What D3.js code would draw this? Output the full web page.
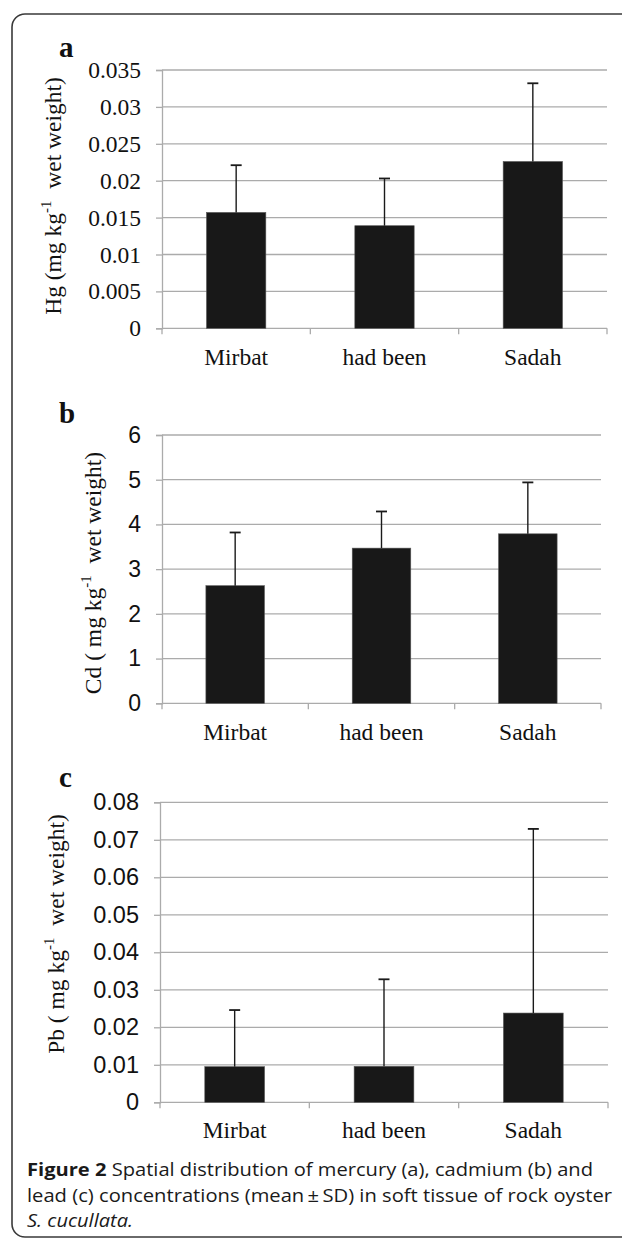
<!DOCTYPE html>
<html>
<head>
<meta charset="utf-8">
<script src="https://cdn.jsdelivr.net/npm/d3@7/dist/d3.min.js"></script>
<style>
  html, body { margin: 0; padding: 0; background: #fff; }
  svg { display: block; }
  text { white-space: pre; }
</style>
</head>
<body>
<svg id="chart" width="622" height="1240"></svg>
<script>
// ---- data ----
const categories = ["Mirbat", "had been", "Sadah"];

const hgMean = [0.0157, 0.0139, 0.0226];
const hgSD   = [0.0064, 0.0064, 0.0106];
const hgTicks = [0, 0.005, 0.01, 0.015, 0.02, 0.025, 0.03, 0.035];
const hgTickLabels = ["0", "0.005", "0.01", "0.015", "0.02", "0.025", "0.03", "0.035"];

const cdMean = [2.63, 3.47, 3.79];
const cdSD   = [1.19, 0.82, 1.15];
const cdTicks = [0, 1, 2, 3, 4, 5, 6];
const cdTickLabels = ["0", "1", "2", "3", "4", "5", "6"];

const pbMean = [0.0095, 0.0096, 0.0238];
const pbSD   = [0.0151, 0.0232, 0.0491];
const pbTicks = [0, 0.01, 0.02, 0.03, 0.04, 0.05, 0.06, 0.07, 0.08];
const pbTickLabels = ["0", "0.01", "0.02", "0.03", "0.04", "0.05", "0.06", "0.07", "0.08"];

const panelLetters = ["a", "b", "c"];
const elements = ["Hg", "Cd", "Pb"];

// ---- layout ----
const serif = "'Liberation Serif', 'Times New Roman', serif";
const sans = "'Liberation Sans', Arial, sans-serif";
const gridColor = "#ababab";
const barColor = "#181818";

const panels = [
  { letter: panelLetters[0], mean: hgMean, sd: hgSD, ticks: hgTicks, labels: hgTickLabels,
    max: 0.035, x0: 162, x1: 607, yTop: 70, yBot: 328.3, tickFont: serif, tickSize: "23.5px",
    title: [elements[0] + " (mg kg", "-1", "  wet weight)"], titleX: 61, titleY: 196,
    letterY: 57, xLabelY: 365 },
  { letter: panelLetters[1], mean: cdMean, sd: cdSD, ticks: cdTicks, labels: cdTickLabels,
    max: 6, x0: 162, x1: 601, yTop: 435, yBot: 703.3, tickFont: sans, tickSize: "23px",
    title: [elements[1] + " ( mg kg", "-1", "  wet weight)"], titleX: 101, titleY: 573,
    letterY: 423, xLabelY: 740 },
  { letter: panelLetters[2], mean: pbMean, sd: pbSD, ticks: pbTicks, labels: pbTickLabels,
    max: 0.08, x0: 160, x1: 608, yTop: 802.3, yBot: 1102.3, tickFont: sans, tickSize: "23.5px",
    title: [elements[2] + " ( mg kg", "-1", "  wet weight)"], titleX: 64, titleY: 934,
    letterY: 787, xLabelY: 1138 }
];

const svg = d3.select("#chart");

// frame (right side cropped)
svg.append("rect")
  .attr("x", 12).attr("y", 14)
  .attr("width", 660).attr("height", 1223)
  .attr("rx", 13).attr("ry", 13)
  .attr("fill", "none").attr("stroke", "#3a3a3a").attr("stroke-width", 1.6);

panels.forEach(p => {
  const g = svg.append("g");
  const x = d3.scaleBand().domain(categories).range([p.x0, p.x1])
    .paddingInner(0.6).paddingOuter(0.3);
  const y = d3.scaleLinear().domain([0, p.max]).range([p.yBot, p.yTop]);

  // gridlines
  g.append("g").selectAll("line").data(p.ticks.filter(t => t > 0)).join("line")
    .attr("x1", p.x0).attr("x2", p.x1)
    .attr("y1", d => y(d)).attr("y2", d => y(d))
    .attr("stroke", gridColor).attr("stroke-width", 1.3);

  // y axis
  const yAxis = d3.axisLeft(y).tickValues(p.ticks)
    .tickFormat((d, i) => p.labels[i]).tickSize(6).tickPadding(15);
  const ya = g.append("g").attr("transform", `translate(${p.x0},0)`).call(yAxis);
  ya.select(".domain").attr("stroke", gridColor).attr("stroke-width", 1.3);
  ya.selectAll(".tick line").attr("stroke", gridColor).attr("stroke-width", 1.3);
  ya.selectAll(".tick text").attr("fill", "#111").style("font-family", p.tickFont)
    .style("font-size", p.tickSize);

  // x axis
  const xa = g.append("g").attr("transform", `translate(0,${p.yBot})`);
  xa.append("line").attr("x1", p.x0).attr("x2", p.x1)
    .attr("stroke", gridColor).attr("stroke-width", 1.3);
  const bounds = [0, 1, 2, 3].map(i => p.x0 + i * (p.x1 - p.x0) / 3);
  xa.selectAll("line.tk").data(bounds).join("line").attr("class", "tk")
    .attr("x1", d => d).attr("x2", d => d).attr("y1", 0).attr("y2", 6)
    .attr("stroke", gridColor).attr("stroke-width", 1.3);
  g.selectAll("text.xl").data(categories).join("text").attr("class", "xl")
    .attr("x", d => x(d) + x.bandwidth() / 2).attr("y", p.xLabelY)
    .attr("text-anchor", "middle")
    .style("font-family", serif).style("font-size", "23.5px").attr("fill", "#111")
    .text(d => d);

  // bars
  g.selectAll("rect.bar").data(categories).join("rect").attr("class", "bar")
    .attr("x", d => x(d)).attr("width", x.bandwidth())
    .attr("y", (d, i) => y(p.mean[i]))
    .attr("height", (d, i) => y(0) - y(p.mean[i]))
    .attr("fill", barColor).attr("stroke", "#555").attr("stroke-width", 0.6);

  // error bars (upper only)
  const cx = d => x(d) + x.bandwidth() / 2;
  g.selectAll("line.err").data(categories).join("line").attr("class", "err")
    .attr("x1", cx).attr("x2", cx)
    .attr("y1", (d, i) => y(p.mean[i]))
    .attr("y2", (d, i) => y(p.mean[i] + p.sd[i]))
    .attr("stroke", "#1a1a1a").attr("stroke-width", 1.4);
  g.selectAll("line.cap").data(categories).join("line").attr("class", "cap")
    .attr("x1", d => cx(d) - 5.5).attr("x2", d => cx(d) + 5.5)
    .attr("y1", (d, i) => y(p.mean[i] + p.sd[i]))
    .attr("y2", (d, i) => y(p.mean[i] + p.sd[i]))
    .attr("stroke", "#1a1a1a").attr("stroke-width", 1.8);

  // panel letter
  svg.append("text").attr("x", 59).attr("y", p.letterY)
    .style("font-family", serif).style("font-weight", "bold").style("font-size", "29px")
    .attr("fill", "#111").text(p.letter);

  // y title
  const t = svg.append("text")
    .attr("transform", `translate(${p.titleX},${p.titleY}) rotate(-90)`)
    .attr("text-anchor", "middle")
    .style("font-family", serif).style("font-size", "23.5px").attr("fill", "#111");
  t.append("tspan").text(p.title[0]);
  t.append("tspan").attr("dy", -10).style("font-size", "15px").text(p.title[1]);
  t.append("tspan").attr("dy", 10).text(p.title[2]);
});

// caption
const capFont = "'Open Sans', 'Noto Sans', sans-serif";
const cap1 = svg.append("text").attr("x", 27).attr("y", 1176)
  .attr("textLength", 566).attr("lengthAdjust", "spacingAndGlyphs")
  .style("font-family", capFont).style("font-size", "18px").attr("fill", "#1a1a1a");
cap1.append("tspan").style("font-weight", "bold").text("Figure 2");
cap1.append("tspan").text(" Spatial distribution of mercury (a), cadmium (b) and");

svg.append("text").attr("x", 27).attr("y", 1201.5)
  .attr("textLength", 585).attr("lengthAdjust", "spacingAndGlyphs")
  .style("font-family", capFont).style("font-size", "18px").attr("fill", "#1a1a1a")
  .text("lead (c) concentrations (mean\u2009\u00b1\u2009SD) in soft tissue of rock oyster");

svg.append("text").attr("x", 27).attr("y", 1227)
  .attr("textLength", 106).attr("lengthAdjust", "spacingAndGlyphs")
  .style("font-family", capFont).style("font-size", "18px")
  .style("font-style", "italic").attr("fill", "#1a1a1a")
  .text("S. cucullata.");
</script>
</body>
</html>
